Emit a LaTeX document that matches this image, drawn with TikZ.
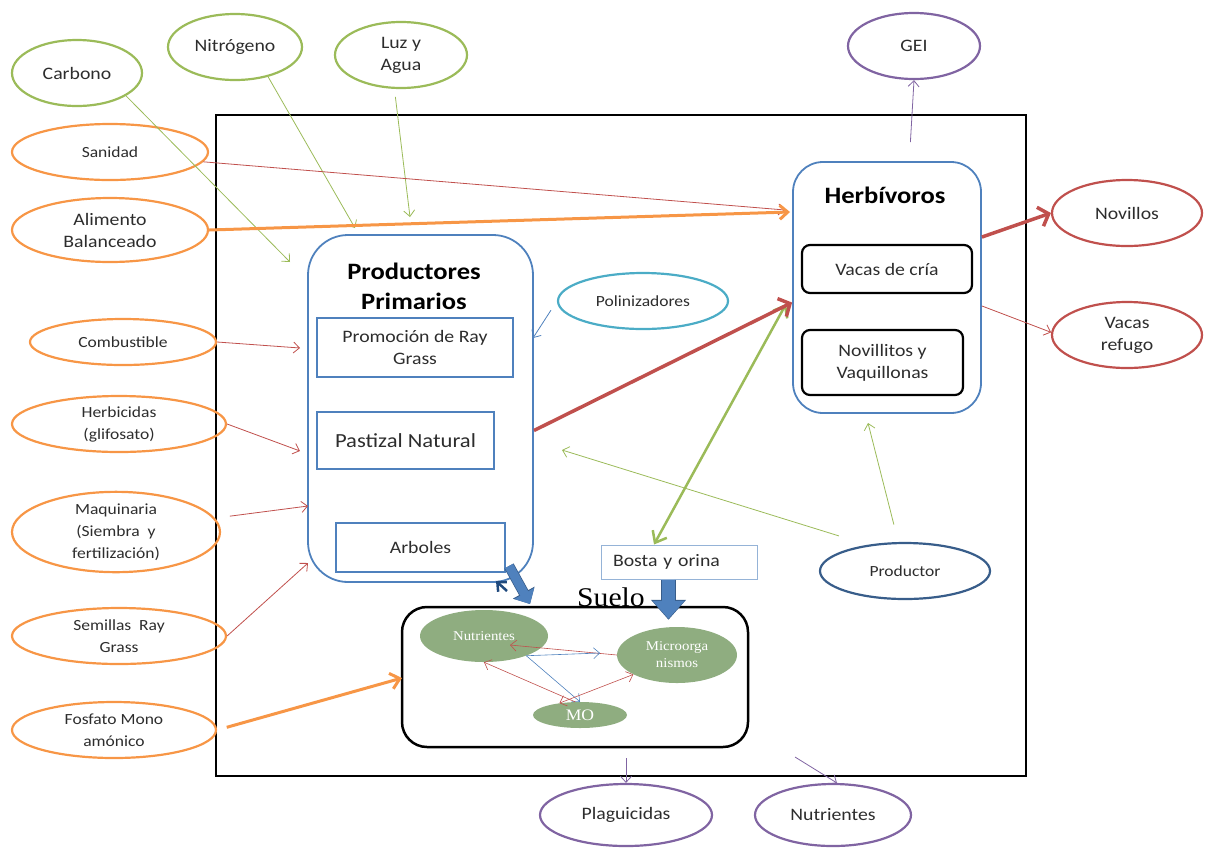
\documentclass[tikz,border=0pt]{standalone}
\usepackage{fontspec}
\setmainfont{Carlito}[FakeStretch=1.13]
\newfontfamily\soilfont{Liberation Serif}[FakeStretch=1.1]
\usetikzlibrary{shapes.geometric,arrows.meta}
\definecolor{cgreen}{RGB}{155,187,89}
\definecolor{corange}{RGB}{247,150,70}
\definecolor{cpurple}{RGB}{128,100,162}
\definecolor{cred}{RGB}{192,80,77}
\definecolor{cblue}{RGB}{79,129,189}
\definecolor{cteal}{RGB}{75,172,198}
\definecolor{cnavy}{RGB}{56,93,138}
\definecolor{cdarknavy}{RGB}{31,73,125}
\definecolor{csoil}{RGB}{143,173,128}
\definecolor{clightblue}{RGB}{149,179,215}
\definecolor{ctext}{RGB}{45,45,45}
\tikzset{
  ell/.style={ellipse, draw, line width=2.2pt, inner sep=0pt, align=center, text=ctext},
  bigf/.style={font=\fontsize{17.5}{22}\selectfont},
  smallf/.style={font=\fontsize{15.5}{22}\selectfont},
  sub/.style={draw=cblue, line width=1.3pt, inner sep=0pt, align=center, text=ctext},
  cattle/.style={draw=black, line width=2.2pt, rounded corners=8pt, inner sep=0pt, align=center, text=ctext},
  soil/.style={ellipse, fill=csoil, inner sep=0pt, text=white, align=center, font=\soilfont\fontsize{13.5}{17}\selectfont},
  thinarr/.style={line width=0.8pt, -{Straight Barb[length=6pt,width=11pt]}},
  thickarr/.style={line width=3.5pt, -{Straight Barb[length=9pt,width=20pt]}},
  blockarr/.style={cblue, line width=13pt, -{Triangle[length=18pt,width=31pt]}},
  blockedge/.style={cnavy, line width=15pt, -{Triangle[length=20pt,width=34pt]}}
}
\begin{document}
\begin{tikzpicture}[x=1pt,y=-1pt]
\useasboundingbox (0,0) rectangle (1206,847);
% frame
\node[draw=black, line width=2.5pt, minimum width=810pt, minimum height=661pt, inner sep=0pt] (frame) at (621,445.5) {};
% outer ellipses
\node[ell, draw=cgreen, bigf, minimum width=130pt, minimum height=66pt] (carbono) at (77,73) {Carbono};
\node[ell, draw=cgreen, bigf, minimum width=134pt, minimum height=66pt] (nitro) at (235,47) {Nitrógeno};
\node[ell, draw=cgreen, bigf, minimum width=132pt, minimum height=66pt] (luz) at (401,55) {Luz y\\Agua};
\node[ell, draw=corange, smallf, minimum width=196pt, minimum height=56pt] (sanidad) at (110,152) {Sanidad};
\node[ell, draw=corange, bigf, minimum width=196pt, minimum height=64pt] (alimento) at (110,230) {Alimento\\Balanceado};
\node[ell, draw=corange, smallf, minimum width=186pt, minimum height=46pt] (combust) at (123,342) {Combustible};
\node[ell, draw=corange, smallf, minimum width=214pt, minimum height=56pt] (herbic) at (119,424) {Herbicidas\\(glifosato)};
\node[ell, draw=corange, smallf, minimum width=208pt, minimum height=70pt] (maqui) at (116,532) {Maquinaria\\(Siembra\ \ y\\fertilización)};
\node[ell, draw=corange, smallf, minimum width=214pt, minimum height=56pt] (semillas) at (119,636) {Semillas\ \ Ray\\Grass};
\node[ell, draw=corange, smallf, minimum width=204pt, minimum height=56pt] (fosfato) at (114,730) {Fosfato Mono\\amónico};
\node[ell, draw=cpurple, bigf, minimum width=132pt, minimum height=66pt] (gei) at (914,46) {GEI};
\node[ell, draw=cpurple, bigf, minimum width=172pt, minimum height=62pt] (plag) at (626,815) {Plaguicidas};
\node[ell, draw=cpurple, bigf, minimum width=156pt, minimum height=62pt] (nutout) at (833,815) {Nutrientes};
\node[ell, draw=cred, bigf, minimum width=150pt, minimum height=66pt] (novillos) at (1127,213) {Novillos};
\node[ell, draw=cred, bigf, minimum width=150pt, minimum height=66pt] (refugo) at (1127,335) {Vacas\\refugo};
\node[ell, draw=cteal, smallf, minimum width=170pt, minimum height=56pt] (poliniz) at (643,301) {Polinizadores};
\node[ell, draw=cnavy, smallf, minimum width=170pt, minimum height=56pt] (productor) at (905,571) {Productor};
% Productores primarios
\node[draw=cblue, line width=1.8pt, rounded corners=40pt, minimum width=225pt, minimum height=347pt, inner sep=0pt] (prod) at (420.5,408.5) {};
\node[font=\bfseries\fontsize{23.5}{30}\selectfont, align=center, inner sep=0pt] (prodtitle) at (414,286) {Productores\\Primarios};
\node[sub, bigf, minimum width=196pt, minimum height=59pt] (promo) at (415,347.5) {Promoción de Ray\\Grass};
\node[sub, font=\fontsize{20}{24}\selectfont, minimum width=177pt, minimum height=57pt] (pastizal) at (405.5,440.5) {Pastizal Natural};
\node[sub, bigf, minimum width=169pt, minimum height=49pt] (arboles) at (420.5,547.5) {Arboles};
% Herbivoros
\node[draw=cblue, line width=1.8pt, rounded corners=30pt, minimum width=188pt, minimum height=251pt, inner sep=0pt] (herb) at (887,287.5) {};
\node[font=\bfseries\fontsize{23.5}{28}\selectfont, inner sep=0pt] (herbtitle) at (885,195) {Herbívoros};
\node[cattle, bigf, minimum width=170pt, minimum height=48pt] (vacas) at (887,269) {Vacas de cría};
\node[cattle, bigf, minimum width=161pt, minimum height=65pt] (novillitos) at (882.5,362.5) {Novillitos y\\Vaquillonas};
% Bosta
\node[draw=clightblue, line width=1pt, minimum height=34pt, text width=132pt, inner xsep=12pt, inner ysep=0pt, align=left, bigf, text=ctext] (bosta) at (679,562) {Bosta y orina};
% Suelo
\node[draw=black, line width=2.5pt, rounded corners=25pt, minimum width=346pt, minimum height=140pt, inner sep=0pt] (suelo) at (575,677) {};
\node[font=\soilfont\fontsize{27}{30}\selectfont, anchor=base, inner sep=0pt] (suelolbl) at (611,606) {Suelo};
\node[soil, minimum width=128pt, minimum height=52pt] (nutr) at (484,636) {Nutrientes};
\node[soil, minimum width=120pt, minimum height=56pt] (micro) at (677,655) {Microorga\\nismos};
\node[soil, minimum width=94pt, minimum height=26pt, font=\soilfont\fontsize{16}{18}\selectfont] (mo) at (580,715) {MO};
% coordinates for free ends
\coordinate (tC) at (290,262);
\coordinate (tN) at (355,228);
\coordinate (tL) at (410,217);
\coordinate (tS) at (785,210);
\coordinate (tA) at (790,212);
\coordinate (tCo) at (300,348);
\coordinate (tH) at (300,451);
\coordinate (tM) at (308,506);
\coordinate (tSe) at (308,563);
\coordinate (tF) at (402,678);
\coordinate (tP) at (533,338);
\coordinate (tG) at (786,304);
\coordinate (tPr) at (562,450);
\coordinate (tHe) at (868,423);
\coordinate (sN) at (795,757);
\coordinate (s1) at (510,645);
\coordinate (s3) at (600,653);
\coordinate (ab1) at (509,566);
\coordinate (ab2) at (530,604);
\coordinate (nv1) at (507,591);
\coordinate (nv2) at (496,581);
% inputs
\draw[thinarr, cgreen] (carbono.-25) -- (tC);
\draw[thinarr, cgreen] (nitro.-42) -- (tN);
\draw[thinarr, cgreen, shorten <=8pt] (luz.-101) -- (tL);
\draw[thinarr, cred] (sanidad.-6) -- (tS);
\draw[corange, line width=3pt, -{Straight Barb[length=8pt,width=14pt]}] (alimento.east) -- (tA);
\draw[thinarr, cred] (combust.east) -- (tCo);
\draw[thinarr, cred] (herbic.east) -- (tH);
\draw[thinarr, cred, shorten <=15pt] (maqui.8) -- (tM);
\draw[thinarr, cred] (semillas.east) -- (tSe);
\draw[corange, line width=3pt, shorten <=10pt, -{Straight Barb[length=9pt,width=16pt]}] (fosfato.east) -- (tF);
\draw[thinarr, cblue, shorten <=11pt] (poliniz.west) -- (tP);
% flows
\draw[cgreen, line width=2.5pt, {Straight Barb[length=10pt,width=16pt]}-{Straight Barb[length=10pt,width=16pt]}] (tG) -- (bosta.145.8);
\draw[thickarr, cred] (prod.-11.8) -- (herb.189.4);
\draw[thinarr, cgreen, shorten <=30pt] (productor.145) -- (tPr);
\draw[thinarr, cgreen, shorten <=18pt] (productor.103) -- (tHe);
\draw[thinarr, cpurple, shorten <=19pt] (herb.80) -- (gei.south);
\draw[thickarr, cred] (herb.28.5) -- (novillos.west);
\draw[thinarr, cred] (herb.-11) -- (refugo.178);
\draw[thinarr, cpurple, shorten <=10pt] (plag.north |- suelo.south) -- (plag.north);
\draw[thinarr, cpurple] (sN) -- (nutout.83);
% block arrows
\draw[blockedge] ([xshift=-10.5pt]bosta.south) -- ([xshift=-10.5pt,yshift=-14pt]bosta.south |- suelo.north);
\draw[blockarr] ([xshift=-10.5pt]bosta.south) -- ([xshift=-10.5pt,yshift=-13pt]bosta.south |- suelo.north);
\draw[cnavy, line width=10.5pt, -{Triangle[length=13pt,width=24pt]}] (ab1) -- (ab2);
\draw[cblue, line width=9pt, -{Triangle[length=12pt,width=22pt]}] (ab1) -- (ab2);
\draw[cdarknavy, line width=2.5pt, -{Straight Barb[length=7pt,width=13pt]}] (nv1) -- (nv2);
% soil arrows
\draw[thinarr, cred, line width=0.6pt] (micro.west) -- (s1);
\draw[thinarr, cblue, line width=0.6pt] (nutr.-25) -- (s3);
\draw[thinarr, cblue, line width=0.6pt] (nutr.-25) -- (mo.north);
\draw[thinarr, cred, line width=0.6pt] (mo.110) -- (nutr.south);
\draw[cred, line width=0.6pt, {Straight Barb[length=6pt,width=11pt]}-{Straight Barb[length=6pt,width=11pt]}] (mo.150) -- (micro.204);
\end{tikzpicture}
\end{document}
